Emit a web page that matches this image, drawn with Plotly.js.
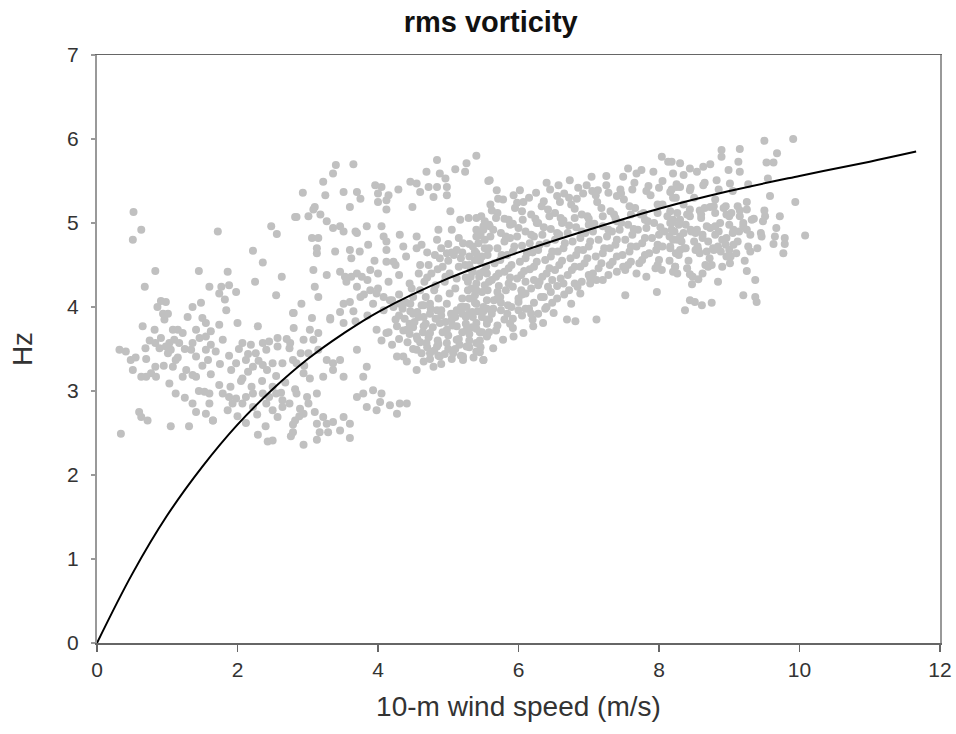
<!DOCTYPE html>
<html>
<head>
<meta charset="utf-8">
<script src="https://cdn.plot.ly/plotly-3.0.1.min.js"></script>
<style>html,body{margin:0;padding:0;background:#fff;}#chart{width:956px;height:734px;}</style>
</head>
<body>
<div id="chart"></div>
<script>
// ---- scatter: low wind speeds (x < 3) ----
const windLow = [
0.52,0.63,0.51,1.72,0.83,0.68,1.45,1.86,2.22,2.36,
2.48,2.56,2.82,2.63,2.25,2.55,2.79,
1.60,1.77,1.88,
1.74,1.82,1.98,1.84,
0.91,0.98,0.86,0.94,1.01,0.96,
0.65,
0.82,0.91,0.83,0.89,0.98,1.03,
0.32,0.41,0.48,0.51,
0.69,0.70,0.83,0.77,0.63,0.70,0.84,
1.08,1.15,1.22,1.10,1.17,1.05,1.01,1.12,
1.29,1.36,1.48,1.50,1.55,1.41,1.46,1.36,1.55,1.62,1.74,
1.34,1.41,1.55,1.62,1.69,1.58,1.79,
2.00,2.29,2.07,2.19,2.36,2.45,2.57,2.57,2.41,2.26,2.12,1.98,
2.74,2.79,2.64,2.50,2.36,2.22,2.15,2.07,1.91,
1.08,1.27,1.36,1.22,1.41,
1.03,1.12,1.53,1.60,1.74,
1.79,1.88,1.98,2.12,2.22,2.36,2.45,2.55,2.64,2.74,
1.36,1.41,1.55,1.65,1.86,1.93,2.07,2.22,2.41,2.50,2.57,2.64,
0.60,0.63,0.72,1.05,1.31,1.65,0.34,
2.79,2.76,2.29,2.43,2.50,
1.50,1.62,1.75,1.88,2.02,2.15,2.30,2.42,2.55,2.68,2.82,
1.90,2.05,2.20,2.35,2.50,2.62,2.00,2.12,2.28,2.40,2.88,
2.95,2.90,2.70,2.80,0.95,1.15,1.25,0.75,0.55,1.45,1.60,1.25];
const hzLow = [
5.13,4.92,4.80,4.90,4.43,4.24,4.43,4.42,4.67,4.53,
4.96,4.87,5.07,4.36,4.30,4.14,3.93,
4.24,4.24,4.26,
4.16,4.09,4.18,3.96,
4.07,4.06,4.00,3.92,3.92,3.85,
3.77,
3.73,3.63,3.57,3.51,3.53,3.57,
3.49,3.47,3.37,3.25,
3.51,3.38,3.29,3.21,3.17,3.17,3.17,
3.73,3.73,3.69,3.61,3.57,3.49,3.45,3.37,
3.88,4.00,4.05,3.87,3.81,3.73,3.63,3.57,3.65,3.71,3.79,
3.49,3.41,3.49,3.55,3.47,3.37,3.61,
3.81,3.77,3.57,3.55,3.57,3.59,3.63,3.53,3.49,3.45,3.37,3.33,
3.51,3.37,3.33,3.33,3.31,3.29,3.23,3.15,3.25,
3.29,3.25,3.19,3.17,3.17,
3.09,2.97,2.99,2.97,3.07,
2.97,2.93,2.91,2.93,2.97,2.97,2.93,2.97,2.89,2.85,
2.85,2.75,2.73,2.65,2.77,2.85,2.85,2.81,2.85,2.77,2.69,2.81,
2.75,2.69,2.65,2.58,2.58,2.65,2.49,
2.60,2.46,2.48,2.40,2.41,
3.30,3.20,3.32,3.42,3.50,3.44,3.36,3.25,3.18,3.10,3.02,
3.05,3.12,3.05,3.12,3.05,2.98,2.70,2.62,2.72,2.58,2.70,
3.30,3.45,3.62,3.75,3.30,3.40,3.50,3.60,3.40,3.00,2.85,2.92];

// ---- scatter: moderate wind speeds (3 - 5.6) ----
const windMid = [
3.40,3.65,3.36,3.22,2.93,2.84,3.10,3.01,3.25,3.51,3.70,3.75,3.60,
3.96,4.05,4.00,4.15,4.12,4.00,4.29,4.12,
4.46,4.55,4.69,4.84,4.88,4.96,4.98,4.84,4.72,4.60,4.79,4.98,5.10,5.24,5.26,5.40,4.49,5.59,
3.08,3.18,3.27,3.36,3.46,3.51,3.68,3.84,3.70,3.06,3.15,3.13,3.13,3.39,3.60,3.62,3.74,3.86,
4.05,4.08,4.31,4.12,4.12,4.12,4.22,4.36,4.55,4.62,4.84,4.86,5.05,5.03,5.17,5.29,5.40,
4.81,4.98,5.12,5.21,5.40,5.50,5.59,
3.08,3.27,3.46,3.53,3.62,3.77,3.89,3.10,3.15,2.91,2.80,3.06,3.32,3.51,3.60,
3.70,3.75,3.89,3.98,4.08,4.17,3.93,4.08,4.22,4.31,4.46,4.65,4.56,4.74,4.84,4.98,5.12,5.26,5.40,5.55,
3.98,4.12,4.27,4.41,4.55,4.65,4.74,4.88,4.98,5.12,5.26,5.40,5.55,4.69,4.84,4.98,5.12,5.26,5.40,5.55,4.55,4.74,4.88,5.07,5.21,5.40,4.36,4.41,4.55,4.79,5.21,5.50,4.27,
2.75,2.94,3.08,2.84,3.01,3.15,3.27,3.36,3.46,3.36,3.51,3.22,3.03,2.94,3.70,3.84,3.68,3.51,3.32,3.15,3.03,3.46,
2.84,2.99,3.13,3.01,2.89,2.82,2.94,3.10,3.22,3.13,3.27,3.36,3.51,3.60,3.17,3.29,3.46,3.70,3.79,3.93,4.05,4.03,4.17,4.31,4.41,3.84,3.98,4.27,3.60,2.94,3.13,2.79,3.79,
4.80,4.95,5.10,5.25,5.40,5.55,4.85,5.00,5.15,5.30,5.45,4.70,4.60,4.75,4.90,5.05,5.20,5.35,5.50,4.65,4.50,4.40,4.30,4.25,4.45,
5.00,5.15,5.30,5.45,5.20,5.05,4.90,
4.30,4.45,4.60,4.72,4.85,5.00,5.15,5.30,5.45,4.38,4.52,4.68,4.82,4.96,5.10,5.25,5.40,5.58,
4.50,4.62,4.80,4.95,5.10,5.30,5.45,4.65,4.90,5.05,4.20,4.15,4.05,
3.55,3.70,3.85,4.00,4.15,4.30,4.45,4.58,4.72,4.88,5.02,5.18,5.32,4.40,4.25,4.55,4.70,3.95,
3.80,4.00,4.20,4.35,4.50,4.62,3.65,3.85,
4.36,4.50,4.64,4.78,4.92,5.06,5.20,5.34,5.48,4.42,4.56,4.70,4.86,5.00,5.16,5.30,5.46,
4.58,4.74,4.90,5.04,5.18,5.34,4.46,4.30,4.74,4.86,5.18,5.36,
4.48,4.66,4.82,4.96,5.12,5.28,5.44,4.60,4.76,4.92,5.08,5.24,5.38,5.52,4.68,4.86,5.02,5.20];
const hzMid = [
5.69,5.70,5.59,5.49,5.36,5.07,5.19,5.08,5.33,5.37,5.37,5.29,5.19,
5.45,5.43,5.35,5.33,5.27,5.25,5.40,5.16,
5.49,5.47,5.61,5.75,5.59,5.53,5.43,5.43,5.43,5.37,5.31,5.33,5.64,5.61,5.71,5.80,5.19,5.51,
5.16,5.10,5.02,4.94,4.96,4.90,4.90,4.96,4.88,4.82,4.82,4.70,4.64,4.66,4.68,4.58,4.66,4.74,
4.96,4.84,4.86,4.78,4.68,4.54,4.54,4.72,4.84,4.74,4.80,4.92,4.92,5.14,5.04,5.06,5.06,
4.62,4.64,4.68,4.76,4.84,4.92,4.96,
4.44,4.38,4.42,4.36,4.36,4.36,4.44,4.24,4.12,4.04,3.93,3.87,3.87,4.04,4.06,
4.24,4.12,4.20,4.16,4.12,4.08,4.04,3.96,4.00,4.04,4.04,4.02,3.94,4.04,3.96,4.04,3.96,4.00,4.04,4.08,
3.73,3.69,3.77,3.73,3.65,3.77,3.69,3.81,3.73,3.77,3.73,3.81,3.85,3.57,3.53,3.57,3.61,3.53,3.57,3.65,3.49,3.45,3.41,3.45,3.41,3.47,3.41,3.35,3.25,3.29,3.37,3.37,3.41,
3.57,3.61,3.61,3.33,3.45,3.49,3.37,3.33,3.37,3.25,3.17,3.17,3.15,3.21,3.49,3.29,3.83,3.81,3.85,3.69,3.73,3.94,
2.97,2.93,2.97,2.85,2.79,2.65,2.73,2.75,2.69,2.61,2.61,2.63,2.69,2.61,2.51,2.51,2.53,2.93,2.97,3.01,2.97,2.87,2.83,2.85,2.85,2.81,2.77,2.73,2.44,2.36,2.42,2.51,3.17,
4.20,4.30,4.22,4.35,4.28,4.40,4.45,4.55,4.48,4.60,4.55,4.35,4.20,3.98,3.90,3.85,3.92,3.88,3.95,3.88,3.92,4.05,4.15,3.85,3.80,
4.75,4.82,4.75,4.85,4.65,4.65,4.70,
3.62,3.68,3.58,3.64,3.60,3.66,3.62,3.68,3.60,3.86,3.82,3.80,3.86,3.82,3.88,3.80,3.74,3.70,
3.50,3.45,3.48,3.44,3.50,3.52,3.46,3.35,3.32,3.38,3.55,3.70,3.60,
4.30,4.40,4.32,4.40,4.30,4.38,4.28,4.40,4.50,4.58,4.40,4.58,4.45,4.60,4.50,4.70,4.65,4.55,
4.15,4.22,4.08,3.98,4.12,4.02,3.95,3.90,
3.72,3.76,3.70,3.76,3.70,3.78,3.70,3.76,3.70,3.58,3.62,3.52,3.56,3.50,3.55,3.60,3.52,
3.88,3.92,3.96,3.92,4.00,3.94,3.95,3.90,3.38,3.42,3.42,3.40,
4.22,4.30,4.26,4.36,4.34,4.20,4.36,4.50,4.40,4.48,4.62,4.50,4.66,4.70,4.12,4.10,4.16,4.10];

// ---- scatter: main band (5.2 - 8.3) ----
const windBand = [
5.57,5.69,5.71,5.93,6.02,6.07,6.40,6.57,6.59,6.73,6.83,6.97,7.04,7.13,7.25,7.40,7.49,7.56,7.68,7.75,7.92,8.04,8.13,8.20,8.30,
5.47,5.62,5.80,5.95,6.18,6.33,6.52,6.75,6.90,7.12,7.31,7.50,7.66,7.88,8.05,8.24,
5.40,5.58,5.75,5.92,6.10,6.28,6.46,6.64,6.82,7.00,7.20,7.38,7.56,7.74,7.93,8.12,8.28,
5.35,5.52,5.70,5.88,6.05,6.22,6.40,6.58,6.77,6.95,7.14,7.33,7.52,7.70,7.90,8.08,8.26,
5.30,5.48,5.66,5.84,6.02,6.20,6.38,6.56,6.74,6.92,7.10,7.30,7.48,7.68,7.86,8.05,8.24,
5.28,5.45,5.62,5.80,5.98,6.16,6.34,6.52,6.70,6.88,7.06,7.30,7.52,7.72,7.95,8.15,
5.50,5.64,5.78,5.93,6.07,6.21,6.35,6.50,6.69,6.81,6.75,6.88,7.02,7.11,7.11,7.28,7.52,7.49,7.68,7.82,7.97,8.04,8.23,
5.30,5.48,5.65,5.82,6.00,6.18,6.36,6.55,6.72,6.90,
5.25,5.42,5.58,5.75,5.92,6.10,6.28,
5.45,5.55,5.68,5.80,5.92,6.05,6.20,5.50,5.62,5.75,5.90,6.05,6.22,6.40,6.55,5.40,5.58,5.72,5.88,6.10,6.30,6.48,
6.25,6.45,6.65,6.85,7.05,7.25,7.45,7.65,7.85,8.05,8.25,8.45,8.65,8.85,9.05,
5.52,5.70,5.86,6.05,6.24,6.42,6.60,6.80,6.98,7.18,7.36,7.58,7.78,7.98,8.16,8.40,8.60,8.80,9.00,9.15,
5.46,5.64,5.82,6.00,6.18,6.36,6.55,6.72,6.90,7.08,7.28,7.46,7.64,7.84,8.02,8.20,8.45,8.62,8.80,9.05,9.25,
5.40,5.58,5.76,5.94,6.12,6.30,6.48,6.66,6.85,7.02,7.22,7.40,7.60,7.80,7.98,8.15,8.38,8.55,8.78,8.95,9.10,
5.35,5.54,5.72,5.90,6.08,6.26,6.44,6.62,6.80,6.98,7.18,7.40,7.60,7.80,8.00,8.20,8.40,8.62,8.90,
5.33,5.52,5.70,5.86,6.04,6.22,6.42,6.60,6.80,7.00,7.20,7.40,
5.22,5.38,5.55,5.70,5.85,6.00,6.15,6.32,6.48,6.65];
const hzBand = [
5.50,5.39,5.29,5.33,5.39,5.25,5.48,5.45,5.25,5.51,5.29,5.45,5.55,5.39,5.56,5.32,5.55,5.65,5.59,5.63,5.61,5.79,5.73,5.59,5.43,
5.08,5.15,5.05,5.18,5.10,5.20,5.12,5.22,5.10,5.25,5.14,5.28,5.18,5.33,5.22,5.30,
4.92,4.98,4.88,4.99,4.90,5.00,4.93,5.03,4.95,5.05,4.96,5.06,4.98,5.10,5.00,5.08,4.98,
4.72,4.80,4.70,4.82,4.73,4.84,4.76,4.86,4.78,4.88,4.80,4.90,4.80,4.92,4.82,4.90,4.80,
4.50,4.60,4.52,4.62,4.54,4.65,4.56,4.66,4.58,4.68,4.60,4.70,4.62,4.72,4.64,4.72,4.64,
4.30,4.40,4.32,4.42,4.34,4.45,4.36,4.44,4.38,4.48,4.40,4.50,4.44,4.52,4.46,4.55,
3.37,3.51,3.61,3.65,3.69,3.77,3.81,3.93,3.85,3.83,4.04,4.16,4.28,4.32,3.85,4.38,4.14,4.48,4.40,4.36,4.18,4.44,4.48,
4.10,4.18,4.08,4.20,4.10,4.22,4.12,4.25,4.20,4.30,
3.88,3.95,3.85,3.96,3.86,3.98,3.92,
3.70,3.80,3.72,3.85,3.75,3.90,3.85,4.00,3.92,4.05,4.00,4.15,4.05,4.00,4.10,4.20,4.30,4.25,4.35,4.30,4.30,4.32,
5.36,5.40,5.35,5.42,5.38,5.45,5.40,5.48,5.44,5.50,5.46,5.42,5.48,5.40,5.38,
5.02,5.12,5.04,5.14,5.05,5.16,5.06,5.17,5.08,5.18,5.10,5.20,5.12,5.22,5.14,5.10,5.06,5.12,5.08,5.15,
4.86,4.92,4.84,4.94,4.86,4.95,4.88,4.97,4.90,4.99,4.92,5.00,4.93,5.02,4.95,5.04,4.92,4.86,4.96,4.88,4.92,
4.64,4.70,4.62,4.72,4.64,4.74,4.66,4.76,4.68,4.78,4.70,4.80,4.72,4.82,4.74,4.84,4.70,4.72,4.68,4.74,4.64,
4.42,4.48,4.40,4.50,4.43,4.54,4.46,4.55,4.48,4.58,4.52,4.60,4.54,4.62,4.56,4.42,4.46,4.40,4.48,
4.22,4.26,4.18,4.28,4.20,4.32,4.24,4.34,4.28,4.38,4.32,4.42,
4.00,4.05,3.98,4.10,4.02,4.06,3.98,4.12,4.05,4.15];

// ---- scatter: extra points filling the dense part of the band ----
const windFill = [
5.60,5.78,5.98,6.15,6.36,6.55,6.72,6.92,7.10,7.28,7.46,7.62,7.82,8.00,8.18,
5.50,5.68,5.88,6.06,6.26,6.44,6.62,6.80,7.00,7.20,7.40,7.60,7.80,7.98,8.18,
5.43,5.60,5.80,5.98,6.16,6.34,6.52,6.70,6.88,7.06,7.26,7.44,7.62,7.82,8.00,8.18,
5.38,5.56,5.74,5.92,6.10,6.28,6.46,6.64,6.82,7.00,7.20,7.38,7.58,7.76,7.96,8.16,
5.32,5.50,5.68,5.86,6.04,6.22,6.40,6.58,6.76,6.94,7.14,7.34,7.56,7.76,7.98,
5.38,5.56,5.74,5.92,6.10,6.28,6.46,6.64,6.84,7.02,
5.30,5.48,5.64,5.84,6.00,6.18,6.38,5.55,5.70,5.88,
8.26,8.44,8.60,8.78,8.96,9.12,8.30,8.46,8.62,8.80,8.96,9.14,8.36,8.52,8.68,8.84,9.00,8.26,8.48,8.66,9.22,9.40,9.45,9.35,9.50];
const hzFill = [
5.22,5.28,5.24,5.30,5.26,5.32,5.30,5.35,5.33,5.36,5.35,5.40,5.38,5.42,5.40,
4.96,5.06,4.98,5.04,5.00,5.08,5.00,5.06,4.98,5.08,5.02,5.10,5.04,5.12,5.00,
4.76,4.84,4.78,4.84,4.76,4.86,4.80,4.88,4.82,4.90,4.84,4.92,4.86,4.94,4.86,4.92,
4.56,4.62,4.56,4.66,4.58,4.68,4.60,4.70,4.62,4.72,4.64,4.74,4.66,4.76,4.68,4.70,
4.36,4.42,4.36,4.46,4.38,4.48,4.40,4.50,4.44,4.52,4.46,4.54,4.50,4.56,4.50,
4.14,4.20,4.12,4.24,4.16,4.26,4.18,4.28,4.24,4.34,
3.92,3.88,3.98,3.92,3.96,3.92,3.98,3.66,3.78,3.80,
5.12,5.16,5.10,5.20,5.10,5.20,4.84,4.90,4.82,4.86,4.82,4.90,4.70,4.68,4.66,4.72,4.68,4.40,4.36,4.50,4.55,4.70,4.88,5.05,5.15];

// ---- scatter: high wind speeds (> 8.1) ----
const windHigh = [
9.91,9.50,9.15,8.89,8.89,9.68,9.53,9.63,9.13,8.73,8.63,8.44,8.30,8.18,8.35,8.54,8.99,9.15,9.27,9.01,
8.82,8.63,8.44,8.25,8.16,9.55,9.58,9.94,9.25,9.25,9.72,9.51,9.48,9.32,9.15,9.03,8.92,8.73,8.58,8.44,
8.30,8.16,8.87,8.73,8.54,8.35,8.20,9.06,9.20,9.30,9.46,9.67,9.65,9.63,9.79,9.79,9.77,10.08,9.06,9.27,
9.30,8.96,9.01,8.77,8.56,8.30,8.16,8.23,8.70,8.75,9.25,9.37,8.84,8.56,8.47,8.44,9.20,9.37,9.39,8.75,
8.61,8.51,8.44,8.37,
8.20,8.35,8.50,8.65,8.80,8.95,8.22,8.38,8.52,8.68,8.85,9.00,8.28,8.42,8.58,8.72,8.88,9.02,9.12,9.20,8.50,8.32,8.70,8.90];
const hzHigh = [
6.00,5.98,5.88,5.87,5.79,5.83,5.72,5.72,5.73,5.70,5.67,5.65,5.71,5.73,5.57,5.61,5.63,5.61,5.46,5.47,
5.51,5.45,5.39,5.43,5.37,5.53,5.32,5.25,5.25,5.16,5.08,5.08,5.02,5.04,5.08,5.12,5.18,5.19,5.15,5.08,
5.04,5.00,5.00,4.94,4.92,4.88,4.80,4.92,4.96,4.86,4.84,4.94,4.84,4.75,4.82,4.75,4.64,4.85,4.74,4.72,
4.66,4.60,4.52,4.70,4.68,4.68,4.72,4.48,4.48,4.50,4.43,4.32,4.30,4.33,4.27,4.39,4.14,4.12,4.06,4.05,
4.02,4.06,4.08,3.96,
5.30,5.22,5.30,5.18,5.28,5.20,4.90,4.98,4.88,4.96,4.90,4.98,4.62,4.55,4.64,4.58,4.66,4.60,4.78,5.00,4.78,4.78,4.78,4.80];

// ---- fitted curve ----
const fitWind = [0, 0.5, 1.0, 1.5, 2.0, 2.5, 3.0, 3.5, 4.0, 5.0, 6.0, 7.0, 8.0, 9.0, 10.0, 11.0, 11.66];
const fitHz   = [0, 0.82, 1.52, 2.10, 2.60, 3.02, 3.38, 3.68, 3.94, 4.34, 4.65, 4.92, 5.17, 5.38, 5.56, 5.73, 5.85];

// axis ticks
const xTicks = [0, 2, 4, 6, 8, 10, 12];
const yTicks = [0, 1, 2, 3, 4, 5, 6, 7];

const windAll = windLow.concat(windMid, windBand, windFill, windHigh);
const hzAll = hzLow.concat(hzMid, hzBand, hzFill, hzHigh);

const FONT = 'Liberation Sans, Arial, sans-serif';

const traces = [
  {
    x: windAll, y: hzAll, type: 'scatter', mode: 'markers',
    marker: {color: '#c0c0c0', size: 8, line: {width: 0}},
    hoverinfo: 'skip', showlegend: false
  },
  {
    x: fitWind, y: fitHz, type: 'scatter', mode: 'lines',
    line: {color: '#000000', width: 2, shape: 'spline', smoothing: 1},
    hoverinfo: 'skip', showlegend: false
  }
];

const layout = {
  width: 956, height: 734,
  margin: {l: 97, r: 16, t: 55, b: 91, pad: 0},
  paper_bgcolor: '#ffffff', plot_bgcolor: '#ffffff',
  font: {family: FONT, color: '#333333', size: 20},
  title: {
    text: '<b>rms vorticity</b>',
    font: {family: FONT, size: 29, color: '#111111'},
    x: 0.467, xref: 'paper', xanchor: 'center',
    y: 0.97, yref: 'container', yanchor: 'middle'
  },
  xaxis: {
    range: [0, 12], tickvals: xTicks, ticktext: xTicks.map(String),
    ticks: 'outside', ticklen: 7, tickwidth: 1.5, tickcolor: '#666666',
    showline: true, linecolor: '#666666', linewidth: 1.5, mirror: true,
    showgrid: false, zeroline: false,
    tickfont: {family: FONT, size: 21, color: '#333333'},
    title: {text: '10-m wind speed (m/s)', font: {family: FONT, size: 28, color: '#333333'}, standoff: 16}
  },
  yaxis: {
    range: [0, 7], tickvals: yTicks, ticktext: yTicks.map(String),
    ticks: 'outside', ticklen: 4, tickwidth: 1.5, tickcolor: '#999999',
    showline: true, linecolor: '#999999', linewidth: 2, mirror: true,
    showgrid: false, zeroline: false, ticklabelstandoff: 8,
    tickfont: {family: FONT, size: 21, color: '#333333'},
    title: {text: 'Hz', font: {family: FONT, size: 28, color: '#333333'}, standoff: 26}
  }
};

Plotly.newPlot('chart', traces, layout, {displayModeBar: false, staticPlot: true});
</script>
</body>
</html>
